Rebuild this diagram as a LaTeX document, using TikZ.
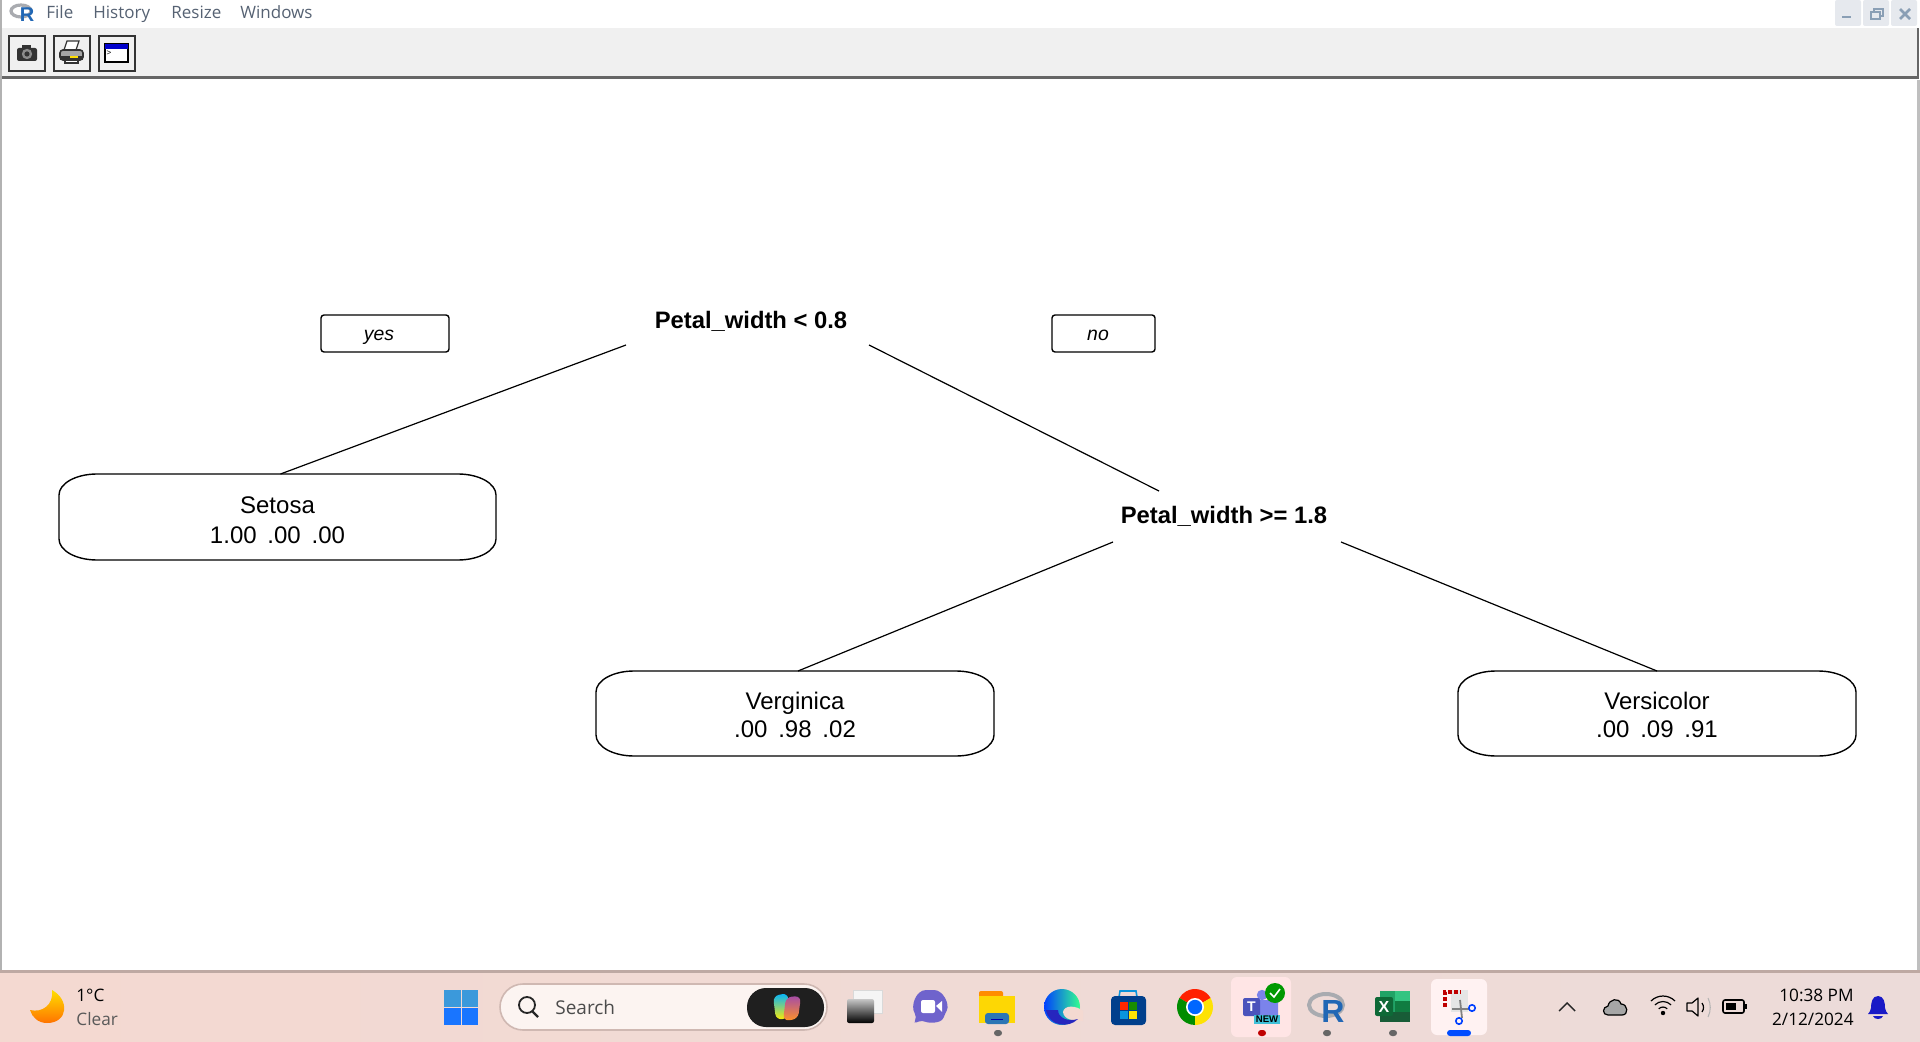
\documentclass[tikz,border=0pt]{standalone}
\usepackage{fontspec}
\setmainfont{Liberation Sans}
\newfontfamily\uifont{Open Sans}
\definecolor{barleft}{HTML}{F4D9D1}
\definecolor{barright}{HTML}{ECDBD9}
\definecolor{toolgrey}{HTML}{F0F0F0}
\definecolor{menutext}{HTML}{566273}
\definecolor{ctrlbox}{HTML}{E6E9EE}
\definecolor{ctrlicon}{HTML}{8A9FB5}
\definecolor{rblue}{HTML}{2167B5}
\definecolor{rgrey}{HTML}{A9ABB0}
\definecolor{meetviolet}{HTML}{6F63CC}
\definecolor{teamsdark}{HTML}{4B53BC}
\definecolor{teamslight}{HTML}{7B83EB}
\definecolor{excelone}{HTML}{21A366}
\definecolor{exceltwo}{HTML}{33C481}
\definecolor{excelthree}{HTML}{107C41}
\definecolor{excelfour}{HTML}{185C37}
\tikzset{
    split/.style={outer sep=0pt, inner sep=0pt, text height=9.2pt, text depth=1.8pt, font=\fontsize{11.9}{14}\bfseries},
    leaf/.style={outer sep=0pt, inner sep=0pt, align=center, font=\fontsize{12}{14}\selectfont},
    tagbox/.style={draw, line width=0.7pt, rounded corners=1.5pt, minimum width=64pt, minimum height=18.5pt, inner sep=0pt, text height=8pt, text depth=0.8pt, font=\fontsize{9.7}{11}\itshape},
    branch/.style={draw, line width=0.6pt},
    toolbutton/.style={draw=black!80, line width=0.8pt, fill=toolgrey},
    menuitem/.style={anchor=base west, inner sep=0pt, text=menutext, font=\uifont\fontsize{8.5}{10}\selectfont},
    traytext/.style={inner sep=0pt, font=\uifont\fontsize{8.6}{10}\selectfont},
    ctrl/.style={fill=ctrlbox, rounded corners=1pt},
    ctrlline/.style={draw=ctrlicon, line width=1pt},
    rundot/.style={fill=black!60, rounded corners=1.5pt},
}
\newcommand{\gapp}{\hspace{5.4pt}}
\begin{document}
\begin{tikzpicture}[x=0.5pt, y=-0.5pt]
\useasboundingbox (0,0) rectangle (1920,1042);
\fill [white] (0,0) rectangle (1920,1042);

% window frame and toolbar
\fill [black!30] (0,0) rectangle (2,971);
\fill [black!25] (1917,80) rectangle (1920,971);
\fill [toolgrey] (2,28) rectangle (1917,76);
\fill [black!60] (2,76) rectangle (1919,79);
\fill [black!60] (1917,28) rectangle (1919,79);
\draw [rgrey, line width=1.6pt] (21,11) ellipse [x radius=5pt, y radius=3pt];
\node [text=rblue, font=\fontsize{10}{10}\bfseries, inner sep=0pt] (menulogo) at (27,15) {R};
\node [menuitem] (menufile)    at (46,18.5)  {File};
\node [menuitem] (menuhistory) at (93,18.5)  {History};
\node [menuitem] (menuresize)  at (171,18.5) {Resize};
\node [menuitem] (menuwindows) at (240,18.5) {Windows};
\draw [toolbutton] (9,36) rectangle (45,71);
\draw [toolbutton] (54,36) rectangle (90,71);
\draw [toolbutton] (99,36) rectangle (135,71);
% camera
\fill [black!80, rounded corners=1pt] (17,48) rectangle (37,61);
\fill [black!80] (22,45) rectangle (31,49);
\fill [black!45] (27,54) circle [radius=2.6pt];
\fill [black!80] (27,54) circle [radius=1.3pt];
% printer
\draw [black!80, fill=white, line width=0.6pt] (64,50) -- (67,41) -- (79,41) -- (76,50) -- cycle;
\draw [black!80, fill=black!35, line width=0.8pt, rounded corners=1.5pt] (60,50) rectangle (83,60);
\fill [black!80] (60,56) rectangle (83,60);
\fill [yellow!80!orange] (70,56) rectangle (78,58);
\draw [black!80, fill=white, line width=0.6pt] (65,60) rectangle (78,63);
% console
\draw [black, fill=white, line width=0.8pt] (105,44) rectangle (128,62);
\fill [blue!80!black] (105,44) rectangle (128,49);
\node [inner sep=0pt, font=\fontsize{4}{4}\selectfont] (consoleprompt) at (109,53) {>};
% window controls
\fill [ctrl] (1835,0) rectangle (1861,26);
\fill [ctrl] (1863,0) rectangle (1889,26);
\fill [ctrl] (1891,0) rectangle (1917,26);
\draw [ctrlline] (1842,17) -- (1851,17);
\draw [ctrlline] (1871,12) rectangle (1880,19);
\draw [ctrlline, line width=0.7pt] (1874,12) -- (1874,9) -- (1883,9) -- (1883,16) -- (1880,16);
\draw [ctrlline, line width=1.3pt] (1900,9) -- (1910,19);
\draw [ctrlline, line width=1.3pt] (1910,9) -- (1900,19);

% the tree
\node [split          , minimum width=121.5pt, minimum height=24pt] (rootsplit)  at (747.5,321) {\kern3.5pt Petal\_width < 0.8};
\node [split          , minimum width=114pt  , minimum height=25.5pt] (widthsplit) at (1227,516.5) {Petal\_width >= 1.8\kern3pt};
\node [leaf           , minimum width=218.5pt, minimum height=43pt] (setosa)     at (277.5,517) {\rule{0pt}{11.4pt}Setosa\\[1pt]1.00\gapp.00\gapp.00};
\node [leaf           , minimum width=199pt  , minimum height=42.5pt] (verginica)  at (795,713.5) {\rule{0pt}{9.9pt}Verginica\\.00\gapp.98\gapp.02};
\node [leaf           , minimum width=199pt  , minimum height=42.5pt] (versicolor) at (1657,713.5) {\rule{0pt}{9.9pt}Versicolor\\.00\gapp.09\gapp.91};
\node [tagbox] (yestag) at (385,333.5)  {yes\kern6pt};
\node [tagbox, minimum width=51.5pt] (notag)  at (1103.5,333.5) {no\kern5.5pt};

\foreach \leafname in {setosa, verginica, versicolor} {
    \draw [line width=0.7pt] ([xshift=19pt]\leafname.north west) -- ([xshift=-19pt]\leafname.north east)
        arc [start angle=90, end angle=0, x radius=19pt, y radius=10.5pt] -- ([yshift=10.5pt]\leafname.south east)
        arc [start angle=0, end angle=-90, x radius=19pt, y radius=10.5pt] -- ([xshift=19pt]\leafname.south west)
        arc [start angle=-90, end angle=-180, x radius=19pt, y radius=10.5pt] -- ([yshift=-10.5pt]\leafname.north west)
        arc [start angle=180, end angle=90, x radius=19pt, y radius=10.5pt] -- cycle;
}

\path [branch] (rootsplit.south west) edge ([xshift=1.5pt]setosa.north);
\path [branch] (rootsplit.south east) edge ([xshift=23pt]widthsplit.north west);
\path [branch] (widthsplit.south west) edge ([xshift=1.5pt]verginica.north);
\path [branch] (widthsplit.south east) edge (versicolor.north);

% taskbar
\shade [left color=barleft, right color=barright] (0,971) rectangle (1920,1042);
\fill [black!22!barleft] (0,970) rectangle (1920,973);
% weather
\shade [top color=yellow!75!orange, bottom color=orange!90!red] (52,990) .. controls (70,1000) and (68,1023) .. (47,1023) .. controls (38,1023) and (32,1017) .. (30,1010) .. controls (42,1013) and (54,1005) .. (52,990);
\node [traytext, anchor=west] (weathertemp) at (76,995) {1°C};
\node [traytext, anchor=west, text=black!65] (weathersky) at (76,1019) {Clear};
% start button
\fill [cyan!70!blue!80] (444,990) rectangle (460.5,1006.5);
\fill [cyan!70!blue!80] (461.5,990) rectangle (478,1006.5);
\fill [blue!60!cyan!90] (444,1007.5) rectangle (460.5,1025);
\fill [blue!60!cyan!90] (461.5,1007.5) rectangle (478,1025);
% search
\draw [fill=white!70!barleft, draw=black!15!barleft, line width=0.8pt, rounded corners=11.5pt] (500,984) rectangle (827,1030);
\draw [black!85, line width=0.9pt] (527,1005) circle [radius=4pt];
\draw [black!85, line width=1.1pt] (532,1011) -- (538,1017);
\node [inner sep=0pt, anchor=west, text=black!70, font=\uifont\fontsize{9.5}{11}\selectfont] (searchtext) at (555,1007) {Search};
\fill [black!88, rounded corners=9.5pt] (747,988) rectangle (824,1027);
\shade [top color=cyan!70!blue, bottom color=yellow!85!orange, rounded corners=3pt] (773,996) -- (788,993) -- (789,1018) -- (776,1020) -- cycle;
\shade [top color=violet!70, bottom color=orange!85, rounded corners=3pt] (786,997) -- (801,996) -- (798,1019) -- (783,1021) -- cycle;
% task view
\draw [fill=black!4, draw=black!15, line width=0.4pt] (853,990) rectangle (882,1013);
\shade [top color=black!22, bottom color=black, rounded corners=1pt] (847,999) rectangle (874,1023);
% meet
\fill [meetviolet, rounded corners=2pt] (913,1024) -- (917,1017) .. controls (910,1006) and (916,990) .. (930,990) .. controls (943,990) and (950,1004) .. (945,1014) .. controls (941,1024) and (928,1023) .. (922,1020) -- cycle;
\fill [white, rounded corners=1pt] (921,1000) rectangle (935,1013);
\fill [white] (936,1006) -- (942,1001) -- (942,1012) -- cycle;
% explorer
\fill [orange!90!yellow, rounded corners=1pt] (979,991) rectangle (1003,1000);
\fill [yellow!75!orange] (979,996) rectangle (1015,1023);
\fill [cyan!60!blue!85!black, rounded corners=1.5pt] (985,1013) rectangle (1009,1024);
\draw [blue!70!black, line width=0.5pt] (991,1019) -- (1003,1019);
\fill [black!60, rounded corners=1.5pt] (994,1030) rectangle (1002,1036);
% edge
\shade [left color=blue!75!cyan, right color=green!55!cyan!80] (1062,1007) circle [radius=9pt];
\fill [barleft] (1063,1012) .. controls (1064,1005) and (1076,1005) .. (1083,1011) -- (1083,1021) .. controls (1074,1021) and (1064,1020) .. (1063,1012);
\fill [blue!70!black!85] (1046,1010) .. controls (1049,1026) and (1068,1029) .. (1078,1019) .. controls (1068,1022) and (1058,1018) .. (1058,1010) -- cycle;
% store
\draw [cyan!80!blue, line width=0.8pt] (1119,997) -- (1120,991) -- (1136,991) -- (1137,997);
\fill [blue!55!cyan!55!black, rounded corners=2pt] (1111,996) rectangle (1146,1025);
\fill [red!70!orange] (1120,1002) rectangle (1127.5,1009.5);
\fill [green!50!black!90!yellow] (1129,1002) rectangle (1136.5,1009.5);
\fill [cyan!80!blue] (1120,1011) rectangle (1127.5,1018.5);
\fill [yellow!85!orange] (1129,1011) rectangle (1136.5,1018.5);
% chrome
\fill [red!75!orange] (1195,1007) -- ++(30:9pt) arc [start angle=30, end angle=150, radius=9pt] -- cycle;
\fill [green!55!black] (1195,1007) -- ++(150:9pt) arc [start angle=150, end angle=270, radius=9pt] -- cycle;
\fill [yellow!85!orange] (1195,1007) -- ++(270:9pt) arc [start angle=270, end angle=390, radius=9pt] -- cycle;
\fill [white] (1195,1007) circle [radius=4.5pt];
\fill [blue!60!cyan] (1195,1007) circle [radius=3.6pt];
% teams
\fill [red!10!white, rounded corners=3pt] (1231,977) rectangle (1291,1037);
\fill [teamslight] (1262,995) circle [radius=2.6pt];
\fill [teamslight, rounded corners=1pt] (1258,1000) rectangle (1278,1018);
\fill [teamsdark, rounded corners=1pt] (1243,998) rectangle (1260,1016);
\node [text=white, inner sep=0pt, font=\fontsize{7}{7}\bfseries] (teamsletter) at (1251.5,1007) {T};
\fill [green!60!black] (1275,993) circle [radius=5pt];
\draw [white, line width=0.8pt] (1270,993) -- (1274,997) -- (1280,989);
\fill [cyan!80!green!75] (1254,1015) rectangle (1280,1024);
\node [inner sep=0pt, font=\fontsize{4.8}{5}\bfseries] (teamsnew) at (1267,1019.5) {NEW};
\fill [red!75!black, rounded corners=1.5pt] (1258,1030) rectangle (1266,1036);
% R
\draw [rgrey, line width=2pt] (1326,1005) ellipse [x radius=8.5pt, y radius=5.5pt];
\node [text=rblue, inner sep=0pt, font=\fontsize{16}{16}\bfseries] (barlogo) at (1333,1011) {R};
\fill [rundot] (1323,1030) rectangle (1331,1036);
% excel
\fill [excelone] (1380,991) rectangle (1395,1001);
\fill [exceltwo] (1395,991) rectangle (1410,1001);
\fill [excelone] (1380,1001) rectangle (1395,1012);
\fill [excelthree] (1395,1001) rectangle (1410,1012);
\fill [excelfour] (1380,1012) rectangle (1410,1022);
\fill [excelthree!85!black, rounded corners=1pt] (1375,997) rectangle (1393,1016);
\node [text=white, inner sep=0pt, font=\fontsize{8}{8}\bfseries] (excelletter) at (1384,1006.5) {X};
\fill [rundot] (1389,1030) rectangle (1397,1036);
% snipping tool
\fill [red!5!white, rounded corners=3pt] (1431,979) rectangle (1487,1035);
\fill [black!10] (1451,990) rectangle (1468,1012);
\draw [red!75!black, line width=1.6pt, dash pattern=on 2pt off 1pt] (1445,1007) -- (1445,992) -- (1461,992);
\draw [black!50, line width=0.9pt] (1460,1000) -- (1462,1018);
\draw [black!50, line width=0.9pt] (1452,1009) -- (1470,1009);
\draw [blue!75!cyan, line width=0.8pt] (1472,1008) circle [radius=1.6pt];
\draw [blue!75!cyan, line width=0.8pt] (1459,1021) circle [radius=1.6pt];
\fill [blue!70!cyan, rounded corners=1.5pt] (1447,1030) rectangle (1471,1036);
% tray
\draw [black!85, line width=0.7pt] (1559,1011) -- (1567,1003) -- (1575,1011);
\draw [black, fill=black!35, line width=0.6pt] (1608,1015) .. controls (1602,1015) and (1602,1007) .. (1608,1006) .. controls (1609,999) and (1619,997) .. (1621,1004) .. controls (1628,1004) and (1629,1015) .. (1622,1015) -- cycle;
\fill [black] (1663,1013) circle [radius=1.1pt];
\draw [black, line width=0.6pt] (1667.2,1008.8) arc [start angle=45, end angle=135, radius=3pt];
\draw [black, line width=0.6pt] (1671.1,1004.9) arc [start angle=45, end angle=135, radius=5.75pt];
\draw [black, line width=0.6pt] (1675,1001) arc [start angle=45, end angle=135, radius=8.5pt];
\draw [black, line width=0.6pt, line join=round] (1687,1003) -- (1692,1003) -- (1698,998) -- (1698,1016) -- (1692,1011) -- (1687,1011) -- cycle;
\draw [black, line width=0.6pt] (1702,1003) .. controls (1704,1006) and (1704,1009) .. (1702,1012);
\draw [black!30, line width=0.5pt] (1708,998) .. controls (1711,1004) and (1711,1011) .. (1708,1017);
\draw [black, line width=0.8pt, rounded corners=1pt] (1723,1000) rectangle (1744,1013);
\fill [black] (1726,1003) rectangle (1736,1010);
\fill [black] (1745,1004) rectangle (1747,1009);
\node [traytext, anchor=east] (clocktime) at (1854,995)  {10:38 PM};
\node [traytext, anchor=east] (clockdate) at (1854,1019) {2/12/2024};
\fill [blue!75!black!90] (1878,996) .. controls (1872,996) and (1871,1003) .. (1871,1008) .. controls (1871,1011) and (1869,1012) .. (1868,1014) -- (1888,1014) .. controls (1887,1012) and (1885,1011) .. (1885,1008) .. controls (1885,1003) and (1884,996) .. (1878,996);
\fill [blue!75!black!90] (1873,1016) -- (1883,1016) .. controls (1882,1020) and (1874,1020) .. (1873,1016);

\end{tikzpicture}
\end{document}
